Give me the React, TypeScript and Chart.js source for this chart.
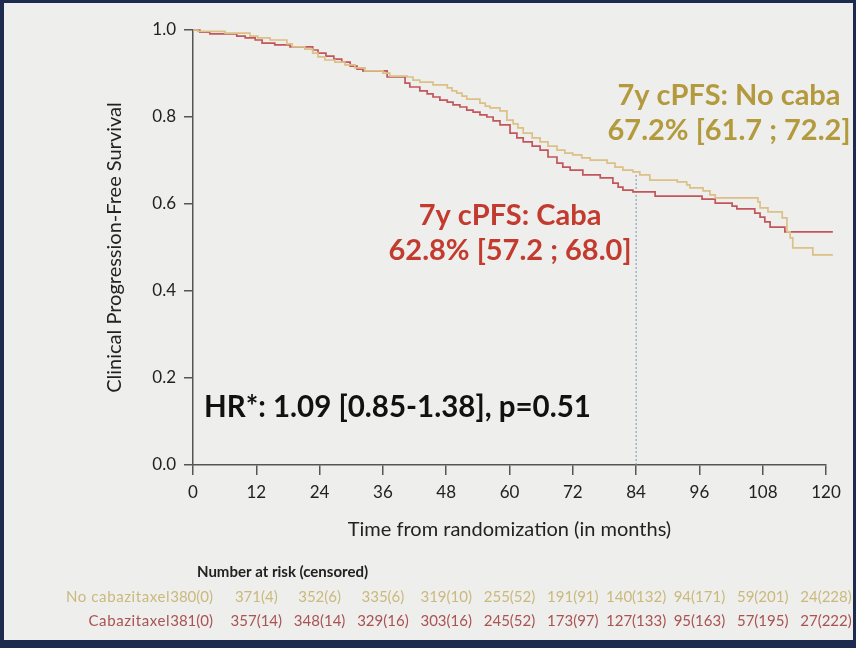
import React, { useEffect, useRef } from "react";
import { Chart, registerables } from "chart.js";

Chart.register(...registerables);

// ---- Data ----
const cabaMonths = [0, 1.3, 3.2, 8.3, 9.9, 11.8, 13.1, 15.5, 18.4, 22.7, 23.7, 25.2, 26.7, 28.2, 29.8, 31.1, 32.2, 36.8, 40.2, 41.1, 43.0, 44.4, 45.5, 46.8, 48.2, 49.3, 50.6, 51.9, 53.1, 54.4, 55.7, 56.9, 58.2, 60.1, 61.4, 62.6, 64.3, 65.8, 67.3, 69.0, 70.1, 71.5, 73.9, 77.2, 79.6, 80.6, 81.5, 83.4, 87.6, 96.5, 99.0, 102.2, 103.1, 106.5, 107.5, 108.4, 109.4, 112.2, 121.3];
const cabaSurv = [1.0, 0.995, 0.991, 0.986, 0.982, 0.977, 0.970, 0.966, 0.961, 0.954, 0.947, 0.940, 0.933, 0.926, 0.917, 0.910, 0.906, 0.892, 0.878, 0.869, 0.860, 0.853, 0.846, 0.839, 0.834, 0.828, 0.823, 0.816, 0.811, 0.805, 0.800, 0.791, 0.782, 0.763, 0.752, 0.743, 0.733, 0.724, 0.708, 0.694, 0.685, 0.678, 0.667, 0.660, 0.648, 0.639, 0.632, 0.628, 0.618, 0.611, 0.602, 0.595, 0.589, 0.579, 0.570, 0.559, 0.547, 0.536, 0.536];

const noCabaMonths = [0, 0.9, 6.1, 10.8, 12.3, 14.6, 17.8, 18.8, 21.2, 22.7, 23.7, 25.0, 26.9, 28.8, 30.7, 32.6, 36.0, 37.3, 40.6, 41.7, 43.0, 45.5, 48.2, 49.1, 50.0, 51.0, 51.9, 54.4, 55.4, 56.3, 58.2, 59.5, 60.7, 61.6, 62.6, 64.3, 65.8, 67.3, 69.0, 70.5, 72.0, 73.7, 75.3, 78.5, 80.0, 81.5, 83.4, 84.7, 86.6, 91.8, 93.6, 94.2, 96.7, 98.0, 99.0, 107.1, 107.5, 109.0, 111.7, 112.6, 113.2, 113.7, 117.5, 121.3];
const noCabaSurv = [1.0, 0.997, 0.993, 0.986, 0.982, 0.977, 0.968, 0.961, 0.956, 0.947, 0.938, 0.931, 0.926, 0.920, 0.913, 0.906, 0.901, 0.894, 0.892, 0.885, 0.880, 0.874, 0.867, 0.860, 0.855, 0.848, 0.841, 0.832, 0.825, 0.821, 0.814, 0.793, 0.784, 0.775, 0.763, 0.752, 0.743, 0.733, 0.724, 0.717, 0.713, 0.706, 0.701, 0.694, 0.685, 0.678, 0.674, 0.667, 0.655, 0.651, 0.644, 0.637, 0.630, 0.621, 0.614, 0.605, 0.591, 0.582, 0.568, 0.536, 0.522, 0.499, 0.483, 0.483];

const landmarkMonth = 84;
const landmarkNoCaba = 0.672;

const xTickValues = [0, 12, 24, 36, 48, 60, 72, 84, 96, 108, 120];
const yTickValues = [0, 0.2, 0.4, 0.6, 0.8, 1.0];

const riskTimes = [0, 12, 24, 36, 48, 60, 72, 84, 96, 108, 120];
const riskNoCaba = ["380(0)", "371(4)", "352(6)", "335(6)", "319(10)", "255(52)", "191(91)", "140(132)", "94(171)", "59(201)", "24(228)"];
const riskCaba = ["381(0)", "357(14)", "348(14)", "329(16)", "303(16)", "245(52)", "173(97)", "127(133)", "95(163)", "57(195)", "27(222)"];
const riskRowLabels = ["No cabazitaxel", "Cabazitaxel"];
const riskTitle = "Number at risk (censored)";

const noCabaNote = ["7y cPFS: No caba", "67.2% [61.7 ; 72.2]"];
const cabaNote = ["7y cPFS: Caba", "62.8% [57.2 ; 68.0]"];
const hrNote = "HR*: 1.09 [0.85-1.38], p=0.51";

const xTitle = "Time from randomization (in months)";
const yTitle = "Clinical Progression-Free Survival";

// ---- Styles ----
const FONT = "Lato, 'Open Sans', sans-serif";
const RED_LINE = "#c2565a";
const GOLD_LINE = "#dcc086";
const RED_TEXT = "#c23b2e";
const GOLD_TEXT = "#b49a3e";
const RED_ROW = "#a95352";
const GOLD_ROW = "#cbb97c";
const AXIS = "#555555";

const textPlugin = {
  id: "kmText",
  afterDraw(chart: any) {
    const { ctx } = chart;
    const x = chart.scales.x;
    ctx.save();
    ctx.textBaseline = "middle";
    ctx.textAlign = "center";

    // No caba annotation
    ctx.font = `bold 29px ${FONT}`;
    ctx.fillStyle = GOLD_TEXT;
    ctx.fillText(noCabaNote[0], 729, 96);
    ctx.fillText(noCabaNote[1], 729, 131);

    // Caba annotation
    ctx.fillStyle = RED_TEXT;
    ctx.fillText(cabaNote[0], 510, 216);
    ctx.fillText(cabaNote[1], 510, 251);

    // HR
    ctx.font = `bold 29.5px ${FONT}`;
    ctx.fillStyle = "#111111";
    ctx.textAlign = "left";
    ctx.fillText(hrNote, 204, 407);

    // Number at risk table
    ctx.font = `bold 15px ${FONT}`;
    ctx.fillStyle = "#222222";
    ctx.textAlign = "left";
    ctx.fillText(riskTitle, 197, 572);

    const rows = [
      { label: riskRowLabels[0], vals: riskNoCaba, color: GOLD_ROW, y: 597 },
      { label: riskRowLabels[1], vals: riskCaba, color: RED_ROW, y: 621 },
    ];
    ctx.font = `15px ${FONT}`;
    rows.forEach((r) => {
      ctx.fillStyle = r.color;
      ctx.textAlign = "right";
      const firstRight = 213;
      ctx.fillText(r.vals[0], firstRight, r.y);
      const w0 = ctx.measureText(r.vals[0]).width;
      (ctx as any).letterSpacing = "0.6px";
      ctx.fillText(r.label, firstRight - w0, r.y);
      (ctx as any).letterSpacing = "0px";
      ctx.textAlign = "center";
      for (let i = 1; i < r.vals.length; i++) {
        ctx.fillText(r.vals[i], x.getPixelForValue(riskTimes[i]), r.y);
      }
    });
    ctx.restore();
  },
};

export default function App() {
  const canvasRef = useRef<HTMLCanvasElement | null>(null);

  useEffect(() => {
    document.body.style.margin = "0";
    const canvas = canvasRef.current;
    if (!canvas) return;
    const chart = new Chart(canvas, {
      type: "line",
      data: {
        datasets: [
          {
            label: "No cabazitaxel",
            data: noCabaMonths.map((m, i) => ({ x: m, y: noCabaSurv[i] })),
            borderColor: GOLD_LINE,
            borderWidth: 1.7,
            pointRadius: 0,
            stepped: true,
            fill: false,
            clip: false as any,
          },
          {
            label: "Cabazitaxel",
            data: cabaMonths.map((m, i) => ({ x: m, y: cabaSurv[i] })),
            borderColor: RED_LINE,
            borderWidth: 1.7,
            pointRadius: 0,
            stepped: true,
            fill: false,
            clip: false as any,
          },
          {
            label: "landmark",
            data: [
              { x: landmarkMonth, y: 0 },
              { x: landmarkMonth, y: landmarkNoCaba },
            ],
            borderColor: "#8090b4",
            borderWidth: 1,
            borderDash: [2, 2],
            pointRadius: 0,
            fill: false,
          },
        ],
      },
      options: {
        animation: false,
        responsive: false,
        devicePixelRatio: 1,
        layout: { padding: { left: 103, right: 30, top: 30, bottom: 106 } },
        plugins: { legend: { display: false }, tooltip: { enabled: false } },
        scales: {
          x: {
            type: "linear",
            min: 0,
            max: 120,
            afterBuildTicks: (s: any) => {
              s.ticks = xTickValues.map((v) => ({ value: v }));
            },
            afterFit: (s: any) => {
              s.height = 77;
            },
            ticks: {
              color: "#222222",
              font: { family: FONT, size: 17 },
              padding: 7,
              maxRotation: 0,
              callback: (v: any) => String(v),
            },
            grid: {
              drawOnChartArea: false,
              drawTicks: true,
              tickLength: 10,
              color: AXIS,
              lineWidth: 1.5,
            },
            border: { color: AXIS, width: 1.5 },
            title: {
              display: true,
              text: xTitle,
              color: "#222222",
              font: { family: FONT, size: 20 },
              padding: { top: 0, bottom: 0 },
            },
          },
          y: {
            type: "linear",
            min: 0,
            max: 1,
            afterBuildTicks: (s: any) => {
              s.ticks = yTickValues.map((v) => ({ value: v }));
            },
            afterFit: (s: any) => {
              s.width = 90;
            },
            ticks: {
              color: "#222222",
              font: { family: FONT, size: 17 },
              padding: 8,
              callback: (v: any) => Number(v).toFixed(1),
            },
            grid: {
              drawOnChartArea: false,
              drawTicks: true,
              tickLength: 9,
              color: AXIS,
              lineWidth: 1.5,
            },
            border: { color: AXIS, width: 1.5 },
            title: {
              display: true,
              text: yTitle,
              color: "#222222",
              font: { family: FONT, size: 20 },
              padding: { top: 0, bottom: 0 },
            },
          },
        },
      },
      plugins: [textPlugin],
    });
    return () => chart.destroy();
  }, []);

  return (
    <div style={{ position: "fixed", left: 0, top: 0, width: 856, height: 648, background: "#1d2b4e" }}>
      <div style={{ position: "absolute", left: 4, top: 3, width: 849, height: 637, background: "#eeeeec" }} />
      <canvas ref={canvasRef} width={856} height={648} style={{ position: "absolute", left: 0, top: 0 }} />
    </div>
  );
}
